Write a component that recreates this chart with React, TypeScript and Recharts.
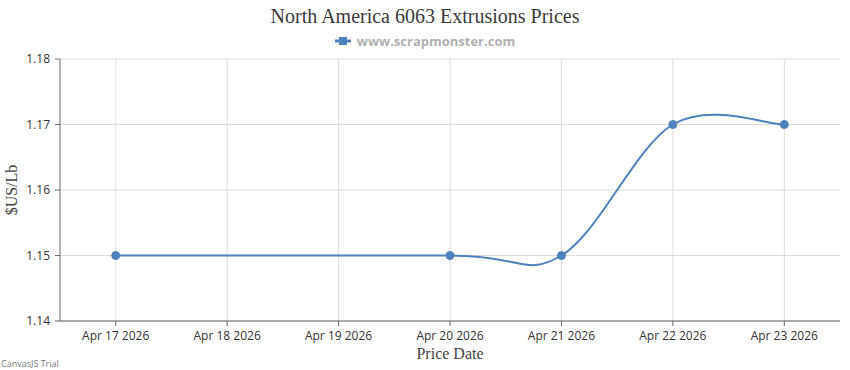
import React from 'react';
import { LineChart, Line, XAxis, YAxis, CartesianGrid, ReferenceLine } from 'recharts';

const dateLabels = ['Apr 17 2026', 'Apr 18 2026', 'Apr 19 2026', 'Apr 20 2026', 'Apr 21 2026', 'Apr 22 2026', 'Apr 23 2026'];
const xTicks = [0, 1, 2, 3, 4, 5, 6];
const pointDays = [0, 3, 4, 5, 6];
const prices = [1.15, 1.15, 1.15, 1.17, 1.17];
const yTicks = [1.14, 1.15, 1.16, 1.17, 1.18];

const data = pointDays.map((d, i) => ({ day: d, price: prices[i] }));

const SERIES_COLOR = '#4F81BC';
const GRID_COLOR = '#dcdcdc';

// Catmull-Rom (uniform) spline with duplicated endpoints, like CanvasJS "spline"
function splineCurve(context: any) {
  let pts: number[][] = [];
  return {
    areaStart() {},
    areaEnd() {},
    lineStart() {
      pts = [];
    },
    point(x: number, y: number) {
      pts.push([+x, +y]);
    },
    lineEnd() {
      const n = pts.length;
      if (!n) return;
      context.moveTo(pts[0][0], pts[0][1]);
      for (let i = 0; i < n - 1; i++) {
        const p0 = pts[i - 1 < 0 ? 0 : i - 1];
        const p1 = pts[i];
        const p2 = pts[i + 1];
        const p3 = pts[i + 2 > n - 1 ? n - 1 : i + 2];
        const c1x = p1[0] + (p2[0] - p0[0]) / 6;
        const c1y = p1[1] + (p2[1] - p0[1]) / 6;
        const c2x = p2[0] - (p3[0] - p1[0]) / 6;
        const c2y = p2[1] - (p3[1] - p1[1]) / 6;
        context.bezierCurveTo(c1x, c1y, c2x, c2y, p2[0], p2[1]);
      }
    },
  };
}

const tickFont = { fill: '#333', fontSize: 12, fontFamily: 'Open Sans' };

export default function App() {
  return (
    <div style={{ position: 'absolute', left: 0, top: 0, width: 850, height: 370, background: '#fff' }}>
      <LineChart
        width={850}
        height={370}
        data={data}
        margin={{ top: 59, right: 10, bottom: 0, left: 0 }}
      >
        <CartesianGrid stroke={GRID_COLOR} strokeWidth={1} vertical={false} />
        {xTicks.map((t) => (
          <ReferenceLine key={t} x={t} stroke={GRID_COLOR} strokeWidth={1} />
        ))}
        <XAxis
          dataKey="day"
          type="number"
          domain={[-0.5, 6.5]}
          ticks={xTicks}
          tickFormatter={(v: number) => dateLabels[v]}
          interval={0}
          height={49}
          tickSize={5}
          tickMargin={5}
          stroke="#666"
          tickLine={{ stroke: '#666' }}
          tick={tickFont}
          allowDataOverflow
        />
        <YAxis
          type="number"
          domain={[1.14, 1.18]}
          ticks={yTicks}
          tickFormatter={(v: number) => v.toFixed(2)}
          width={60}
          tickSize={5}
          tickMargin={5}
          stroke="#666"
          tickLine={{ stroke: '#666' }}
          tick={tickFont}
          interval={0}
        />
        <Line
          dataKey="price"
          type={splineCurve as any}
          stroke={SERIES_COLOR}
          strokeWidth={2}
          dot={{ r: 4, fill: SERIES_COLOR, stroke: SERIES_COLOR, strokeWidth: 1 }}
          activeDot={false}
          isAnimationActive={false}
        />
      </LineChart>

      <div style={{ position: 'absolute', left: 0, top: 4, width: 850, textAlign: 'center', fontFamily: '"Liberation Serif", serif', fontSize: 20, color: '#3a3a3a', lineHeight: '24px' }}>
        North America 6063 Extrusions Prices
      </div>

      <div style={{ position: 'absolute', left: 0, top: 31, width: 850, display: 'flex', justifyContent: 'center', alignItems: 'center', height: 20 }}>
        <svg width={16} height={10} style={{ marginRight: 6 }}>
          <line x1={0} y1={5} x2={16} y2={5} stroke={SERIES_COLOR} strokeWidth={3} />
          <rect x={4} y={1} width={8} height={8} fill={SERIES_COLOR} />
        </svg>
        <span style={{ fontFamily: '"Open Sans", sans-serif', fontWeight: 700, fontSize: 13, color: '#b0b0b0' }}>
          www.scrapmonster.com
        </span>
      </div>

      <div style={{ position: 'absolute', left: 60, width: 780, top: 344, textAlign: 'center', fontFamily: '"Liberation Serif", serif', fontSize: 16, color: '#444', lineHeight: '20px' }}>
        Price Date
      </div>

      <div style={{ position: 'absolute', left: 12, top: 190, width: 0, height: 0 }}>
        <div style={{ position: 'absolute', transform: 'translate(-50%, -50%) rotate(-90deg)', whiteSpace: 'nowrap', fontFamily: '"Liberation Serif", serif', fontSize: 16, color: '#444', lineHeight: '20px' }}>
          $US/Lb
        </div>
      </div>

      <div style={{ position: 'absolute', left: 1, top: 357, fontFamily: '"Open Sans", sans-serif', fontSize: 9, color: '#777' }}>
        CanvasJS Trial
      </div>
    </div>
  );
}
